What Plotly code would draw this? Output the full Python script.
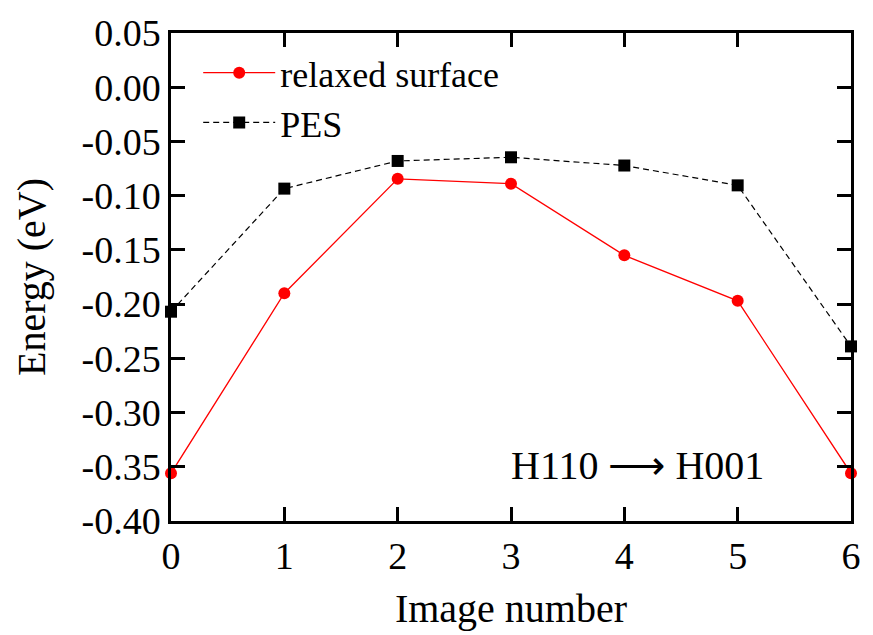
import plotly.graph_objects as go

images = [0, 1, 2, 3, 4, 5, 6]
relaxed = [-0.356, -0.190, -0.0845, -0.089, -0.155, -0.197, -0.356]
pes = [-0.207, -0.0935, -0.068, -0.0646, -0.0722, -0.0905, -0.239]
ytickvals = [0.05, 0.00, -0.05, -0.10, -0.15, -0.20, -0.25, -0.30, -0.35, -0.40]
yticktext = ["0.05", "0.00", "-0.05", "-0.10", "-0.15", "-0.20", "-0.25", "-0.30", "-0.35", "-0.40"]

FONT = "Liberation Serif"

fig = go.Figure()
fig.add_trace(go.Scatter(
    x=images, y=relaxed, mode="lines+markers", name="relaxed surface",
    line=dict(color="#ff0000", width=1.3),
    marker=dict(symbol="circle", size=12, color="#ff0000"),
    cliponaxis=False,
))
fig.add_trace(go.Scatter(
    x=images, y=pes, mode="lines+markers", name="PES",
    line=dict(color="#000000", width=1.2, dash="6px,4px"),
    marker=dict(symbol="square", size=12, color="#000000"),
    cliponaxis=False,
))

axis_common = dict(
    showline=True, linecolor="black", linewidth=2.5, mirror="allticks",
    ticks="inside", ticklen=14, tickwidth=2.6, tickcolor="black",
    showgrid=False, zeroline=False,
    tickfont=dict(family=FONT, size=38, color="black"),
)

fig.update_xaxes(
    range=[0, 6], tickvals=images, ticktext=[str(i) for i in images],
    title=dict(text="Image number", font=dict(family=FONT, size=40, color="black"), standoff=18),
    **axis_common,
)
fig.update_yaxes(
    range=[-0.40, 0.05], tickvals=ytickvals, ticktext=yticktext,
    title=dict(text="Energy (eV)", font=dict(family=FONT, size=40, color="black"), standoff=24),
    **axis_common,
)

fig.add_annotation(
    x=5.25, y=-0.349, xref="x", yref="y", text="H110 ⟶ H001", showarrow=False,
    xanchor="right", yanchor="middle",
    font=dict(family=FONT, size=40, color="black"),
)

fig.update_layout(
    width=873, height=635,
    margin=dict(l=171, r=22, t=33, b=109),
    paper_bgcolor="white", plot_bgcolor="white",
    showlegend=True,
    legend=dict(
        x=0.04, y=0.98, xanchor="left", yanchor="top",
        font=dict(family=FONT, size=36, color="black"),
        bgcolor="rgba(0,0,0,0)", itemwidth=72, tracegroupgap=0,
    ),
)

fig.write_html("out.html")
